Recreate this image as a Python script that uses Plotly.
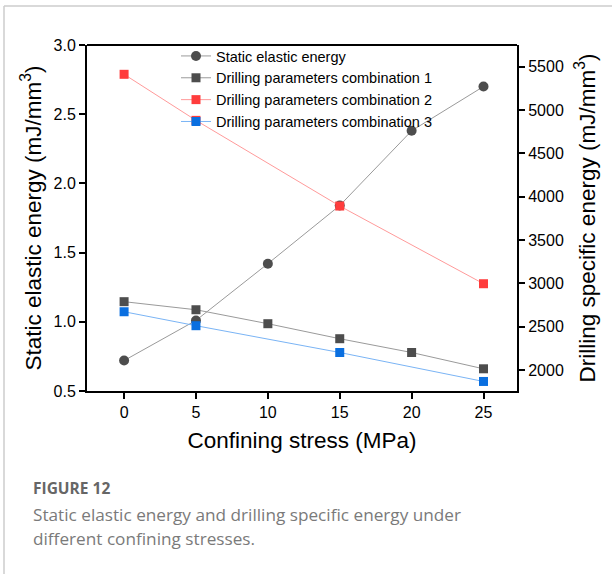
import plotly.graph_objects as go

stress = [0, 5, 10, 15, 20, 25]
static_energy = [0.72, 1.01, 1.42, 1.84, 2.38, 2.70]
combo1 = [2790, 2697, 2536, 2363, 2204, 2016]
stress_sub = [0, 5, 15, 25]
combo2 = [5412, 4881, 3893, 2997]
combo3 = [2674, 2513, 2204, 1870]

# layout geometry
W, H = 612, 574
L, R, T, B = 87, 95, 45, 183
pw, ph = W - L - R, H - T - B

def px(x):
    return (x - L) / pw

def py(y):
    return (H - B - y) / ph

FONT = "Arial, Liberation Sans"

fig = go.Figure()
fig.add_trace(go.Scatter(x=stress, y=static_energy, name="Static elastic energy",
                         mode="lines+markers", line=dict(color="#9a9a9a", width=1),
                         marker=dict(symbol="circle", size=10, color="#4d4d4d")))
fig.add_trace(go.Scatter(x=stress, y=combo1, name="Drilling parameters combination 1",
                         mode="lines+markers", yaxis="y2", line=dict(color="#9a9a9a", width=1),
                         marker=dict(symbol="square", size=9, color="#4d4d4d")))
fig.add_trace(go.Scatter(x=stress_sub, y=combo2, name="Drilling parameters combination 2",
                         mode="lines+markers", yaxis="y2", line=dict(color="#ff9a9a", width=1),
                         marker=dict(symbol="square", size=9, color="#ff3c3c")))
fig.add_trace(go.Scatter(x=stress_sub, y=combo3, name="Drilling parameters combination 3",
                         mode="lines+markers", yaxis="y2", line=dict(color="#7ab4f5", width=1),
                         marker=dict(symbol="square", size=9, color="#0a6fe0")))

axis_common = dict(showline=True, linecolor="black", linewidth=2, mirror=False,
                   ticks="outside", ticklen=6, tickwidth=2, tickcolor="black",
                   showgrid=False, zeroline=False,
                   tickfont=dict(family=FONT, size=16, color="black"))

title_font = dict(family=FONT, size=22.5, color="black")

fig.update_layout(
    width=W, height=H,
    margin=dict(l=L, r=R, t=T, b=B),
    paper_bgcolor="white", plot_bgcolor="white",
    font=dict(family=FONT),
    showlegend=True,
    legend=dict(x=px(176), y=py(40), xanchor="left", yanchor="top",
                bgcolor="rgba(0,0,0,0)", borderwidth=0,
                font=dict(family=FONT, size=14.5, color="black"),
                tracegroupgap=0, itemwidth=30),
    xaxis=dict(range=[-2.58, 27.33], tickvals=[0, 5, 10, 15, 20, 25],
               title=dict(text="Confining stress (MPa)", standoff=12, font=title_font),
               **axis_common),
    yaxis=dict(range=[0.5, 3.0], tickvals=[0.5, 1.0, 1.5, 2.0, 2.5, 3.0], tickformat=".1f",
               title=dict(text="Static elastic energy (mJ/mm<sup>3</sup>)", standoff=6,
                          font=title_font),
               **axis_common),
    yaxis2=dict(range=[1760, 5750], overlaying="y", side="right", anchor="x",
                tickvals=[2000, 2500, 3000, 3500, 4000, 4500, 5000, 5500],
                title=dict(text="Drilling specific energy (mJ/mm<sup>3</sup>)", standoff=16,
                           font=title_font),
                **axis_common),
)

# top frame line of the plot area (box)
fig.add_shape(type="line", xref="paper", yref="paper", x0=0, x1=1, y0=1, y1=1,
              line=dict(color="black", width=2))

# outer page border (gray)
fig.add_shape(type="line", xref="paper", yref="paper", x0=px(4), x1=px(612), y0=py(6), y1=py(6),
              line=dict(color="#cccccc", width=1.5))
fig.add_shape(type="line", xref="paper", yref="paper", x0=px(4), x1=px(4), y0=py(6), y1=py(574),
              line=dict(color="#cccccc", width=1.5))

cap_font = "Open Sans, Noto Sans"
fig.add_annotation(x=px(31), y=py(488), xref="paper", yref="paper", xanchor="left", yanchor="middle",
                   text="<b>FIGURE 12</b>", showarrow=False,
                   font=dict(family=cap_font, size=15.5, color="#666666"))
fig.add_annotation(x=px(31), y=py(514), xref="paper", yref="paper", xanchor="left", yanchor="middle",
                   text="Static elastic energy and drilling specific energy under", showarrow=False,
                   font=dict(family=cap_font, size=17.2, color="#7a7a7a"))
fig.add_annotation(x=px(31), y=py(538), xref="paper", yref="paper", xanchor="left", yanchor="middle",
                   text="different confining stresses.", showarrow=False,
                   font=dict(family=cap_font, size=17.2, color="#7a7a7a"))

fig.write_html("out.html")
